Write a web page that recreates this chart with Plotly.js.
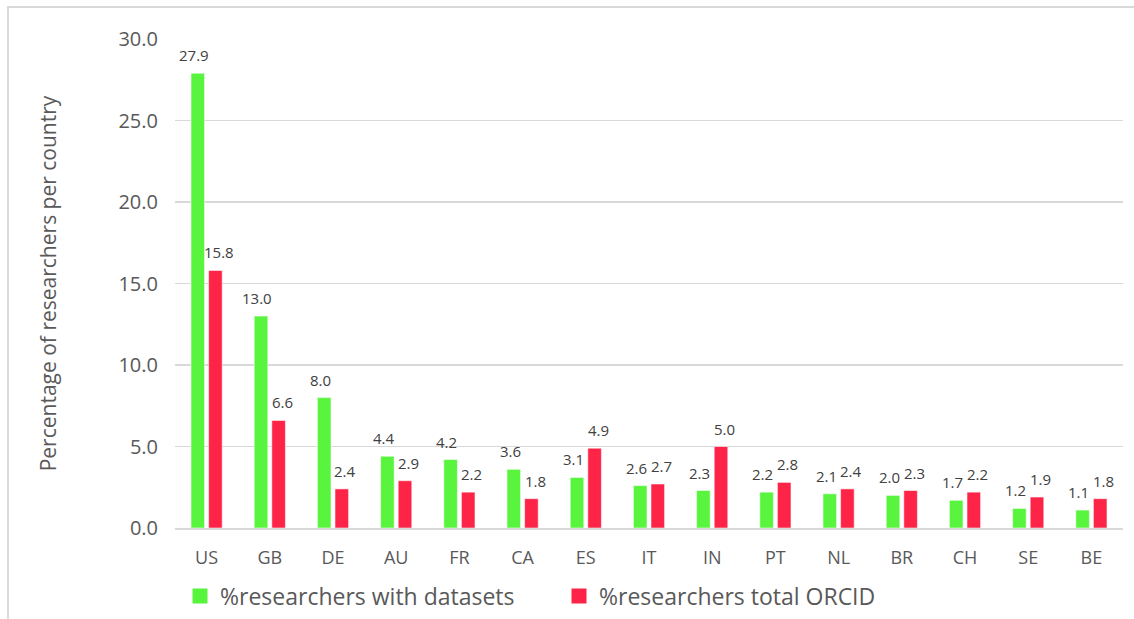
<!DOCTYPE html>
<html>
<head>
<meta charset="utf-8">
<script src="https://cdn.plot.ly/plotly-3.0.1.min.js"></script>
<style>
  html, body { margin: 0; padding: 0; background: #ffffff; }
  #wrap { position: relative; width: 1134px; height: 619px; overflow: hidden; }
  #chart { position: absolute; left: 0; top: 0; width: 1134px; height: 619px; }
  #frame { position: absolute; left: 7px; top: 6px; width: 1200px; height: 700px;
           border-top: 2px solid #d9d9d9; border-left: 2px solid #d9d9d9; pointer-events: none; }
</style>
</head>
<body>
<div id="wrap">
  <div id="chart"></div>
  <div id="frame"></div>
</div>
<script>
const countries = ["US","GB","DE","AU","FR","CA","ES","IT","IN","PT","NL","BR","CH","SE","BE"];
const withDatasets = [27.9,13.0,8.0,4.4,4.2,3.6,3.1,2.6,2.3,2.2,2.1,2.0,1.7,1.2,1.1];
const totalOrcid = [15.8,6.6,2.4,2.9,2.2,1.8,4.9,2.7,5.0,2.8,2.4,2.3,2.2,1.9,1.8];
const seriesNames = ["%researchers with datasets","%researchers total ORCID"];
const seriesColors = ["#58F43E","#FE2447"];
const yTickValues = [0,5,10,15,20,25,30];

const FONT = "'Open Sans', 'Noto Sans', 'DejaVu Sans', sans-serif";
const TEXT = "#595959";

// layout geometry (styles, not data)
const W = 1134, H = 619;
const M = {l: 175, r: 11, t: 39, b: 91};
const BARGAP = 0.443, GROUPGAP = 0.227;
const catWidth = (W - M.l - M.r) / countries.length;
const slot = catWidth * (1 - BARGAP) / 2;
const LABEL_SPREAD = 3.6; // extra outward px so neighbouring labels don't collide

function barTrace(values, color) {
  return {
    type: "bar",
    x: countries,
    y: values,
    showlegend: false,
    marker: {color: color, line: {color: "rgba(255,255,255,0.55)", width: 1}},
    hoverinfo: "x+y"
  };
}
function legendTrace(name, color) {
  return {
    type: "scatter",
    mode: "markers",
    name: name,
    x: [null],
    y: [null],
    marker: {symbol: "square", size: 15, color: color},
    hoverinfo: "skip"
  };
}

const data = [
  barTrace(withDatasets, seriesColors[0]),
  barTrace(totalOrcid, seriesColors[1]),
  legendTrace(seriesNames[0], seriesColors[0]),
  legendTrace(seriesNames[1], seriesColors[1])
];

function labels(values, side) {
  return values.map((v, i) => ({
    x: countries[i],
    y: v,
    xref: "x",
    yref: "y",
    text: v.toFixed(1),
    showarrow: false,
    xanchor: "center",
    yanchor: "bottom",
    xshift: side * (slot / 2 + LABEL_SPREAD),
    yshift: 6,
    font: {family: FONT, size: 15, color: "#404040"}
  }));
}

const layout = {
  width: W,
  height: H,
  paper_bgcolor: "rgba(0,0,0,0)",
  plot_bgcolor: "#ffffff",
  margin: M,
  font: {family: FONT, color: TEXT},
  barmode: "group",
  bargap: BARGAP,
  bargroupgap: GROUPGAP,
  showlegend: true,
  legend: {
    orientation: "h",
    xref: "container", yref: "container",
    x: 180 / W, xanchor: "left",
    y: 1 - 596 / H, yanchor: "middle",
    font: {family: FONT, size: 23, color: TEXT},
    entrywidth: 334,
    itemgap: 10,
    itemsizing: "trace",
    bgcolor: "rgba(0,0,0,0)"
  },
  annotations: labels(withDatasets, -1).concat(labels(totalOrcid, 1)),
  xaxis: {
    type: "category",
    tickfont: {family: FONT, size: 18, color: TEXT},
    showgrid: false,
    showline: true,
    linecolor: "#d9d9d9",
    linewidth: 2,
    ticks: "",
    ticklabelstandoff: 12,
    automargin: false,
    fixedrange: true
  },
  yaxis: {
    range: [0, 30],
    tickvals: yTickValues,
    tickformat: ".1f",
    tickfont: {family: FONT, size: 20, color: TEXT},
    showgrid: true,
    gridcolor: "#d9d9d9",
    gridwidth: 1.8,
    zeroline: false,
    showline: false,
    ticks: "",
    ticklabelstandoff: 16,
    automargin: false,
    title: {
      text: "Percentage of researchers per country",
      font: {family: FONT, size: 21, color: TEXT},
      standoff: 56
    },
    fixedrange: true
  }
};

Plotly.newPlot("chart", data, layout, {displayModeBar: false, staticPlot: true});
</script>
</body>
</html>
